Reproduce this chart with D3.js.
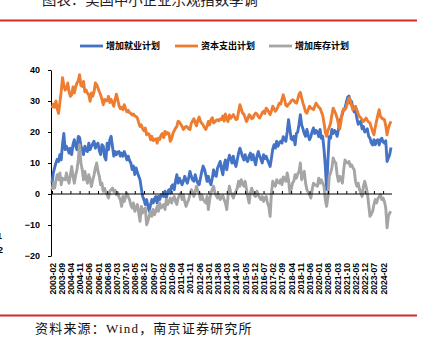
<!DOCTYPE html>
<html>
<head>
<meta charset="utf-8">
<script src="https://cdn.jsdelivr.net/npm/d3@7"></script>
<style>
  html, body { margin: 0; padding: 0; background: #fff; }
  svg { display: block; }
</style>
</head>
<body>
<svg id="chart" width="424" height="338"></svg>
<script>
// NFIB small-business plans, net % (seasonally adjusted), monthly 2003-02 .. 2024-08
const seriesNames = ["增加就业计划", "资本支出计划", "增加库存计划"];
const seriesColors = ["#4472C4", "#ED7D31", "#A5A5A5"];

const hiringPlans = [
  3.5,6.8,8.5,10,11.2,10.5,12.7,11,16,19.5,
  14.3,15.4,14.5,13.2,14.8,12.7,16,17.5,15.5,14.3,
  18.6,18.2,15.5,14.3,12.7,15.4,14.2,13.7,16.4,14.3,
  15.4,16.2,17,14.8,15.9,16.4,14,12.7,15.9,15.4,
  12,11,16.4,14.3,17.5,18.6,15.4,12.2,13.7,12.7,
  13.5,13.7,12.2,13.2,12.2,13.7,12.5,11,12.2,10.8,
  10,7.9,9,6.3,8.4,7,5.7,4.6,1.8,-0.8,
  -1.8,-3.4,-1.8,-3.8,-5.6,-3.4,-1.8,-2.9,-1.5,-0.8,
  -2.9,-0.8,-1.8,-0.2,-0.5,-0.8,0.9,-1.3,0.5,1.4,
  0.3,2.5,3,1.4,4.1,6.2,3.5,5.1,4,3,
  4.1,5.7,4.5,3.5,5.1,7.3,5.7,4.5,4.1,6.2,
  4.6,3.5,3,5.1,7.3,9,8,6.2,4.1,5.7,
  4,3,5.1,7.8,6,5.7,8.4,9.4,10.5,
  8,6.2,9.5,11,7.8,10.5,12.5,11.5,10,12.2,
  10,8.9,11,13.2,14.8,13.5,12,11,12.7,11,
  10.5,12.2,13.2,11,12.7,11,9.4,12.2,13.7,12.3,
  11.2,10,12.7,11.4,12.2,11,10,8.9,11.5,14.5,
  15.9,14.8,17,15.4,16.5,17,16.4,18.5,17.8,17,
  20,24,21,17.8,17.5,18.6,15.9,19.5,20,22.5,
  25.6,22.3,21,19.5,18.6,20.8,19,17.5,18.5,20.2,
  21.3,19.5,20.5,20,18.5,20.8,18,18.6,14.5,9,
  1.4,11,18.5,18,20.8,19.5,20.5,20,18.6,20.8,
  23.5,24.5,25.8,27.2,27.7,29.5,31.2,31.6,29.3,29.9,
  27.5,26.5,27,24.5,22.5,23,23.5,21,21.8,20,
  20.5,21,18.6,18,16.5,15.8,17.5,15.9,17.2,17.5,
  15.8,17.5,18,16.8,16.4,17.2,10.5,11.6,12.7,15
];

const capexPlans = [
  27.7,29,28,30,27.5,26,29.5,33,37.5,35,
  33.5,34,35.8,33,31.5,32,34.5,32.6,34.5,35.8,
  36.5,38.5,35,34.7,36.3,33,33.5,32.5,32,29.9,
  32.6,31.5,33,35.8,35.3,34.2,33,32,30.5,28.8,
  30.5,30,30.2,31.5,29.5,30.5,29.5,28.3,30.4,32.2,
  30.5,28.5,27.5,28,27.2,28.8,27.5,26.5,27,26.2,
  26,25.5,25.8,25.2,25,24.5,23,21.8,22.3,21,
  20.4,21.3,19.1,19.5,19.2,17.5,18.6,17.2,17.6,17.8,
  16.4,18,17.6,19,19.5,18.2,20.2,19.3,19.8,19.5,
  17,17.8,19.5,20.4,21.2,21.8,23.5,23.2,22.5,21.8,
  20.8,21.4,21.8,21.6,21,20.8,22.8,23.6,24.3,22.9,
  22,23.8,24.8,23.4,22.8,22.3,21.5,20.8,21.8,23.4,
  22.3,24,24.6,22.9,23.3,23.8,24,23.6,24.2,
  24,25.2,23.5,25.8,24.2,23.4,25.5,24.4,25,25.6,
  24.8,24,24.2,26.5,28.8,27.5,26.1,25.8,24.6,23.4,
  24.2,25.6,25.2,24.3,24.5,25.6,26.1,25.8,25,24.5,
  25.3,26.2,26.7,26,27.7,27.2,26.4,25.6,26.8,28.3,
  27.5,26.7,27.3,28.2,29.3,29,30.5,32,30.5,28.6,
  28.3,29,29.3,30,30.4,30.2,29.6,29.3,30.5,32.2,
  32.8,31,29.3,28,26.5,26.1,27.2,28.3,27.8,27.5,
  27.2,28.3,29.3,28.6,28,27.7,26.5,25.5,23,20,
  18.6,20.5,21.5,22.8,25.5,27.7,26.8,25.8,24.5,22.5,
  21,23.5,26.5,27.5,27.2,28,29.5,31,30.5,28.5,
  27.2,27.6,28.3,27.2,25.8,25,24.6,24,23.4,23.8,
  24.5,23.8,23.2,22.9,21.5,20.2,19.1,21.5,23.5,25.5,
  27.2,25,24.5,24.2,24,22,19.1,21.3,22.5,23.4
];

const inventoryPlans = [
  1.4,3.5,1.9,4.5,6.2,4.6,6.8,3,5.1,4.8,
  4.6,6.8,4.5,3.5,6.2,8.9,5.7,3.5,6,7.8,
  11,15.9,10,7.8,4.6,7.3,5,3.5,6.2,4.6,
  2.4,4.5,6.2,8.4,10,7.3,5.7,3,3.5,0.9,
  1.8,0.5,-0.2,-1.3,0.9,1.4,1.9,0.8,1.2,-0.2,
  0.5,-1,-1.8,-4,-0.8,-2.4,-1,0.3,-0.8,-1.8,
  -3.5,-4.5,-2.9,-5.6,-4.5,-3.4,-6.1,-8.8,-4,-6.1,
  -5,-4.5,-9.9,-8.8,-7,-5.6,-7.2,-5,-6.7,-5.5,
  -4,-5.6,-2.9,-4.5,-4,-3.4,-5,-1.8,-3.4,-2.5,
  -1.3,-2.9,-1.5,-0.8,-2.4,-3.4,-1.3,-0.5,0.3,-1.8,
  -0.2,-2.4,-4,-2.8,-1.8,-0.2,1.4,0.5,-0.8,0.9,
  2.5,1,0.3,-1.8,-0.2,-1.8,-2.3,-2.9,-0.8,-5,
  -1.8,0.3,1.5,2.5,0.3,-0.5,-1.3,-0.2,-1.8,
  -1.2,-0.5,-1.8,-3,-5,-0.5,2.5,0.5,-0.2,-1.3,
  0.2,0.9,1.9,4.1,2.5,4.6,3.5,2.5,4.1,1.5,
  -1,-2.9,0.3,1.9,0.5,-0.5,-0.8,0.9,-0.2,-1.2,
  -1.8,-0.8,-2.4,-1.2,-0.8,-2.9,-4,-7.2,0.2,4.1,
  3,2.5,4.6,3.8,3.5,4.6,3,5.5,5,4.1,
  6.8,4.6,0.5,1.5,3.5,4.1,6.2,5.1,6.5,7.3,
  10,4.6,6.5,7.3,3.5,1.4,0.5,-0.2,-1.3,1.4,
  3.5,3,2.8,2.5,5.1,3.5,4.6,3.5,2.5,-1.8,
  -4,-1,5.7,6.8,8.4,11.6,10.5,10,6.2,4.1,
  5.7,4.8,3.5,7.8,11,10.2,10,10.5,8.9,9.4,
  8.5,7.8,4.1,2.5,3.5,1.5,0.3,-0.8,2.5,4.1,
  2.5,0.3,-3.4,-7.2,-6.5,-5.6,-3.4,-1.8,-2.9,-1.5,
  -0.8,-0.2,-1.8,-1.3,-2.5,-4.5,-10.9,-7.2,-6.1,-5.6
];

// category axis: one entry per month
const months = d3.timeMonth.range(new Date(2003, 1, 1), new Date(2024, 8, 1)).map(d3.timeFormat("%Y-%m"));

const tickLabels = [
  "2003-02","2003-09","2004-04","2004-11","2005-06","2006-01","2006-08","2007-03",
  "2007-10","2008-05","2008-12","2009-07","2010-02","2010-09","2011-04","2011-11",
  "2012-06","2013-01","2013-08","2014-03","2014-10","2015-05","2015-12","2016-07",
  "2017-02","2017-09","2018-04","2018-11","2019-06","2020-01","2020-08","2021-03",
  "2021-10","2022-05","2022-12","2023-07","2024-02"
];
const yTicks = [-20, -10, 0, 10, 20, 30, 40];

const svg = d3.select("#chart");
const latin = "'Liberation Sans', Arial, sans-serif";
const cjk = "'Noto Sans CJK SC', sans-serif";

// title (partly above the page edge)
svg.append("text")
  .attr("x", 42).attr("y", 5)
  .attr("font-family", cjk).attr("font-size", 14.4)
  .attr("fill", "#222")
  .text("图表：美国中小企业乐观指数季调");

// red rules
svg.append("line").attr("x1", 0).attr("x2", 417).attr("y1", 20.5).attr("y2", 20.5)
  .attr("stroke", "#d42a2a").attr("stroke-width", 1.8);
svg.append("line").attr("x1", 0).attr("x2", 417).attr("y1", 315.5).attr("y2", 315.5)
  .attr("stroke", "#d42a2a").attr("stroke-width", 1.8);

// stray margin glyphs on the left edge
svg.append("text").attr("x", -3).attr("y", 239).attr("font-family", latin)
  .attr("font-weight", "bold").attr("font-size", 9).text("1");
svg.append("text").attr("x", -2).attr("y", 253).attr("font-family", latin)
  .attr("font-weight", "bold").attr("font-size", 9).text("2");

const x = d3.scalePoint().domain(months).range([52, 391]);
const y = d3.scaleLinear().domain([-20, 40]).range([256, 70]);

// y axis
const yAxis = svg.append("g")
  .attr("transform", "translate(51,0)")
  .call(d3.axisLeft(y).tickValues(yTicks).tickSize(3).tickPadding(8).tickSizeOuter(0));
yAxis.select(".domain").attr("stroke", "#000");
yAxis.selectAll(".tick line").attr("stroke", "#000");
yAxis.selectAll("text")
  .attr("font-family", latin).attr("font-weight", "bold").attr("font-size", 9).attr("fill", "#000");

// series lines
const series = [hiringPlans, capexPlans, inventoryPlans];
const line = d3.line().x((d, i) => x(months[i])).y(d => y(d));
svg.append("g").selectAll("path")
  .data(series)
  .join("path")
  .attr("d", d => line(d))
  .attr("fill", "none")
  .attr("stroke", (d, i) => seriesColors[i])
  .attr("stroke-width", 2.9)
  .attr("stroke-linejoin", "round");

// zero line with inward ticks
const xAxis = svg.append("g")
  .attr("transform", `translate(0,${y(0)})`)
  .call(d3.axisTop(x).tickValues(tickLabels).tickSize(3).tickSizeOuter(0).tickFormat(""));
xAxis.select(".domain").attr("stroke", "#000").attr("d", `M51,0H${x(months[months.length - 1]) + 1}`);
xAxis.selectAll(".tick line").attr("stroke", "#000");

// month labels along the bottom
const xLab = svg.append("g")
  .attr("transform", `translate(0,${y(-20) + 7})`)
  .call(d3.axisBottom(x).tickValues(tickLabels).tickSize(0).tickPadding(0));
xLab.select(".domain").remove();
xLab.selectAll("text")
  .attr("font-family", latin).attr("font-weight", "bold").attr("font-size", 8.6).attr("fill", "#000")
  .attr("text-anchor", "end")
  .attr("transform", "rotate(-90)")
  .attr("x", 0).attr("y", 0).attr("dy", "0.35em");

// legend
const legendX = [80, 175, 269];
const lg = svg.append("g").selectAll("g")
  .data(seriesNames)
  .join("g")
  .attr("transform", (d, i) => `translate(${legendX[i]},46)`);
lg.append("line").attr("x1", 0).attr("x2", 23).attr("y1", 0).attr("y2", 0)
  .attr("stroke", (d, i) => seriesColors[i]).attr("stroke-width", 2.8);
lg.append("text").attr("x", 26).attr("y", 3.3)
  .attr("font-family", cjk).attr("font-weight", "bold").attr("font-size", 9)
  .attr("fill", "#000")
  .text(d => d);

// source note
const src = svg.append("text")
  .attr("x", 35).attr("y", 333)
  .attr("font-size", 13).attr("fill", "#111")
  .attr("letter-spacing", 1.2)
  .attr("font-family", "'Liberation Serif', 'Noto Sans CJK SC', serif");
src.text("资料来源：Wind，南京证券研究所");
</script>
</body>
</html>
